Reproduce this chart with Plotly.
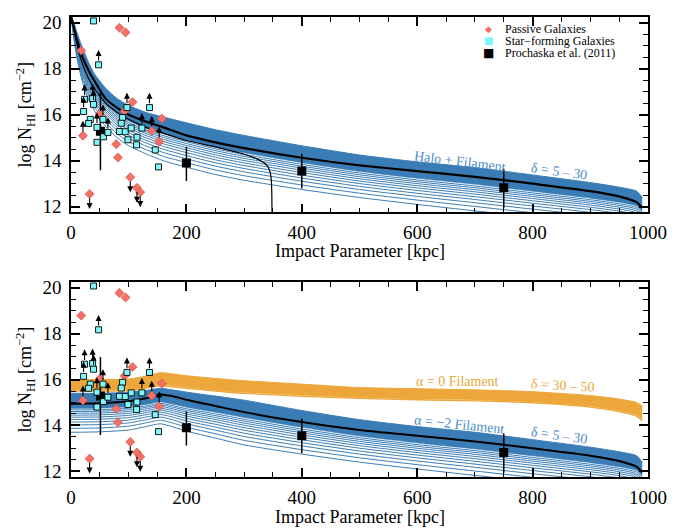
import numpy as np
import plotly.graph_objects as go
from plotly.subplots import make_subplots

# ---- galaxy measurements (impact parameter kpc, log N_HI) ----
passive_b = [84, 94.5, 17.8, 106.7, 157.5, 20.7, 49.6, 92.9, 140, 152.9, 78.4, 81.3, 102.7, 114.3, 120, 32.2]
passive_n = [19.78, 19.58, 18.79, 16.55, 15.83, 15.09, 16.02, 16.16, 15.30, 14.83, 14.72, 14.14, 13.28, 12.82, 12.63, 12.55]
passive_lim = ['', '', '', '', '', 'low', '', '', 'low', 'low', '', '', 'up', 'up', 'up', 'up']

sf_b = [39.1, 47.8, 23.5, 37.4, 39.1, 21.8, 33.4, 30.5, 45, 55.4, 45, 56.4, 64,
        89.4, 97, 87.1, 84.1, 94, 104.4, 98.7, 114.3, 113.6, 122.9, 136, 146, 151.7]
sf_n = [20.08, 18.17, 16.67, 16.7, 16.45, 16.14, 15.8, 15.62, 15.45, 15.8, 14.8, 15.04, 15.23,
        15.88, 16.31, 15.63, 15.27, 15.26, 15.42, 14.91, 15.02, 14.69, 15.42, 16.31, 14.47, 13.73]
sf_lim = ['', 'low', 'low', 'low', 'low', 'low', '', '', 'low', 'low', '', '', 'low',
          '', 'low', '', '', '', '', '', '', '', 'low', 'low', '', '']

# Prochaska et al. (2011)
pro_b = [51, 200, 400, 750]
pro_n = [15.28, 13.90, 13.55, 12.82]
pro_hi = [16.98, 14.61, 14.30, 13.65]
pro_lo = [13.58, 13.12, 12.79, 11.93]

# ---- top panel models: halo + filament ----
top_b = [0, 5, 10, 20, 30, 40, 60, 80, 100, 130, 160, 200, 250, 300, 400, 500, 600, 700, 800, 900, 950, 980, 990]
hf_hi = [20.3, 20.0, 19.6, 18.9, 18.3, 17.8, 17.15, 16.7, 16.4, 16.1, 15.9, 15.65, 15.35, 15.1,
         14.65, 14.25, 13.95, 13.7, 13.38, 13.05, 12.85, 12.68, 12.4]
hf_lo = [20.3, 19.3, 18.5, 17.4, 16.7, 16.2, 15.5, 15.0, 14.65, 14.3, 14.0, 13.72, 13.4, 13.15,
         12.75, 12.4, 12.1, 11.82, 11.55, 11.3, 11.15, 11.0, 10.8]
hf_mid = [20.3, 19.8, 19.3, 18.5, 17.95, 17.5, 16.7, 16.3, 16.0, 15.7, 15.45, 15.1, 14.8, 14.55,
          14.13, 13.8, 13.55, 13.3, 13.0, 12.68, 12.45, 12.2, 11.95]
halo_b = [0, 5, 10, 20, 30, 40, 60, 80, 100, 130, 160, 200, 250, 300, 322, 335, 341, 345, 347, 348, 348.5]
halo_n = [20.3, 19.7, 19.1, 18.2, 17.6, 17.15, 16.5, 16.1, 15.8, 15.45, 15.2, 14.88, 14.6, 14.28,
          14.08, 13.9, 13.75, 13.5, 13.2, 12.6, 11.5]

# ---- bottom panel models: filaments ----
bot_b = [0, 50, 100, 130, 155, 175, 200, 250, 300, 400, 500, 600, 700, 800, 900, 950, 980, 990]
a0_hi = [16.0, 16.0, 16.02, 16.15, 16.3, 16.25, 16.17, 16.05, 15.95, 15.8, 15.65, 15.6, 15.55, 15.47, 15.3, 15.15, 15.0, 14.85]
a0_lo = [15.5, 15.5, 15.52, 15.62, 15.72, 15.68, 15.62, 15.5, 15.4, 15.27, 15.18, 15.12, 15.07, 14.98, 14.8, 14.6, 14.4, 14.2]
am2_hi = [15.4, 15.4, 15.45, 15.52, 15.62, 15.55, 15.45, 15.28, 15.1, 14.65, 14.25, 13.95, 13.7, 13.38, 13.05, 12.85, 12.68, 12.4]
am2_lo = [13.7, 13.72, 13.8, 13.95, 14.07, 13.95, 13.75, 13.45, 13.15, 12.75, 12.4, 12.1, 11.82, 11.55, 11.3, 11.15, 11.0, 10.8]
am2_mid = [14.95, 14.97, 15.05, 15.18, 15.35, 15.28, 15.12, 14.85, 14.58, 14.15, 13.8, 13.55, 13.3, 13.0, 12.68, 12.45, 12.2, 11.95]

deltas_blue = list(range(5, 31))
deltas_orange = list(range(30, 51))

BLUE = 'rgb(58,125,182)'
BLUE_TXT = 'rgb(78,140,198)'
ORANGE = 'rgb(236,166,58)'
SERIF = 'Liberation Serif'


def fan(lo, hi, deltas):
    # one curve per delta, spaced in log(delta) between the two edge curves
    lo = np.array(lo)
    hi = np.array(hi)
    ld = np.log10(deltas)
    w = (ld - ld[0]) / (ld[-1] - ld[0])
    return [lo + wi * (hi - lo) for wi in w]


fig = make_subplots(rows=2, cols=1)
SPL = dict(shape='spline', smoothing=0.6)


def add_fan(row, b, lo, hi, deltas, color, width, solid_from):
    curves = fan(lo, hi, deltas)
    # dense upper part of the family reads as a solid band
    k = deltas.index(solid_from)
    fig.add_trace(go.Scatter(x=b, y=curves[k], mode='lines', showlegend=False, hoverinfo='skip',
                             line=dict(color=color, width=0.5, **SPL)), row=row, col=1)
    fig.add_trace(go.Scatter(x=b, y=curves[-1], mode='lines', showlegend=False, hoverinfo='skip',
                             fill='tonexty', fillcolor=color,
                             line=dict(color=color, width=1.0, **SPL)), row=row, col=1)
    for curve in curves[:k]:
        fig.add_trace(go.Scatter(x=b, y=curve, mode='lines', showlegend=False, hoverinfo='skip',
                                 line=dict(color=color, width=width, **SPL)),
                      row=row, col=1)


def add_points(row):
    fig.add_trace(go.Scatter(x=pro_b, y=pro_n, mode='markers', showlegend=False,
                             marker=dict(symbol='square', size=9, color='black'),
                             error_y=dict(type='data', symmetric=False,
                                          array=[h - n for h, n in zip(pro_hi, pro_n)],
                                          arrayminus=[n - l for n, l in zip(pro_n, pro_lo)],
                                          color='black', thickness=1.5, width=0)),
                  row=row, col=1)
    fig.add_trace(go.Scatter(x=passive_b, y=passive_n, mode='markers', showlegend=False,
                             marker=dict(symbol='diamond', size=7, color='rgb(244,112,102)',
                                         line=dict(color='rgb(205,70,60)', width=0.6))),
                  row=row, col=1)
    fig.add_trace(go.Scatter(x=sf_b, y=sf_n, mode='markers', showlegend=False,
                             marker=dict(symbol='square', size=6, color='rgb(125,248,250)',
                                         line=dict(color='black', width=0.9))),
                  row=row, col=1)
    xr = 'x' if row == 1 else 'x2'
    yr = 'y' if row == 1 else 'y2'
    for b, n, lim in list(zip(passive_b, passive_n, passive_lim)) + list(zip(sf_b, sf_n, sf_lim)):
        if lim == 'low':
            tail, tip = n + 0.12, n + 0.65
        elif lim == 'up':
            tail, tip = n - 0.12, n - 0.65
        else:
            continue
        fig.add_annotation(x=b, y=tip, ax=b, ay=tail, xref=xr, yref=yr, axref=xr, ayref=yr,
                           text='', showarrow=True, arrowhead=2, arrowsize=1.1,
                           arrowwidth=1.1, arrowcolor='black')


# top panel
add_fan(1, top_b, hf_lo, hf_hi, deltas_blue, BLUE, 1.0, 15)
fig.add_trace(go.Scatter(x=halo_b, y=halo_n, mode='lines', showlegend=False,
                         line=dict(color='black', width=1.2, shape='spline', smoothing=0.4)), row=1, col=1)
fig.add_trace(go.Scatter(x=top_b, y=hf_mid, mode='lines', showlegend=False,
                         line=dict(color='black', width=2.2, **SPL)), row=1, col=1)
add_points(1)

# bottom panel
add_fan(2, bot_b, a0_lo, a0_hi, deltas_orange, ORANGE, 1.3, 31)
add_fan(2, bot_b, am2_lo, am2_hi, deltas_blue, BLUE, 1.0, 15)
fig.add_trace(go.Scatter(x=bot_b, y=am2_mid, mode='lines', showlegend=False,
                         line=dict(color='black', width=2.0, **SPL)), row=2, col=1)
add_points(2)

# model labels
labels = [
    ('x', 'y', 675, 13.98, 'Halo + Filament', BLUE_TXT, 7),
    ('x', 'y', 847, 13.55, 'δ = 5 – 30', BLUE_TXT, 8),
    ('x2', 'y2', 669, 15.91, 'α = 0 Filament', ORANGE, 0),
    ('x2', 'y2', 852, 15.75, 'δ = 30 – 50', ORANGE, 3),
    ('x2', 'y2', 674, 14.02, 'α = −2 Filament', BLUE_TXT, 6),
    ('x2', 'y2', 847, 13.57, 'δ = 5 – 30', BLUE_TXT, 8),
]
for xr, yr, x, y, txt, col, ang in labels:
    fig.add_annotation(x=x, y=y, xref=xr, yref=yr, text=txt, showarrow=False, textangle=ang,
                       font=dict(family=SERIF, size=14, color=col))

# legend (top panel, upper right)
legend_rows = [
    ('◆', 'rgb(244,112,102)', 9, 'Passive Galaxies', 0.975),
    ('■', 'rgb(125,248,250)', 10, 'Star−forming Galaxies', 0.948),
    ('■', 'black', 12, 'Prochaska et al. (2011)', 0.921),
]
for sym, col, sz, txt, yp in legend_rows:
    fig.add_annotation(x=0.7233, y=yp, xref='paper', yref='paper', text=sym, showarrow=False,
                       xanchor='center', yanchor='middle', font=dict(family='DejaVu Sans', size=sz, color=col))
    fig.add_annotation(x=0.7504, y=yp, xref='paper', yref='paper', text=txt, showarrow=False,
                       xanchor='left', yanchor='middle', borderpad=0,
                       font=dict(family=SERIF, size=12, color='black'))

# x-axis titles placed under each panel
for xr, yr, yd in [('x domain', 'y domain', -0.195), ('x2 domain', 'y2 domain', -0.205)]:
    fig.add_annotation(x=0.5, y=yd, xref=xr, yref=yr, text='Impact Parameter [kpc]', showarrow=False,
                       xanchor='center', yanchor='middle', borderpad=0,
                       font=dict(family=SERIF, size=18, color='black'))

axis_common = dict(showline=True, linecolor='black', linewidth=1.5, mirror='ticks', ticks='inside',
                   tickwidth=1.5, ticklen=9, tickcolor='black', showgrid=False, zeroline=False,
                   tickfont=dict(family=SERIF, size=19, color='black'))
xa = dict(axis_common, range=[0, 1000], tick0=0, dtick=200, ticklabelstandoff=2,
          minor=dict(ticks='inside', dtick=50, ticklen=5, tickwidth=1.2, tickcolor='black', showgrid=False))
ya = dict(axis_common, range=[11.75, 20.25], tick0=12, dtick=2, ticklabelstandoff=4,
          minor=dict(ticks='inside', dtick=0.5, ticklen=5, tickwidth=1.2, tickcolor='black', showgrid=False),
          title=dict(text='log N<sub>HI</sub> [cm<sup>−2</sup>]', standoff=6,
                     font=dict(family=SERIF, size=18, color='black')))

# page body has an 8px margin, so the figure is drawn 8px in from the window corner
fig.update_layout(
    width=677, height=521,
    margin=dict(l=63, r=37, t=4, b=52),
    paper_bgcolor='white', plot_bgcolor='white',
    xaxis=dict(xa, domain=[0, 1], anchor='y'),
    yaxis=dict(ya, domain=[0.5751, 1], anchor='x'),
    xaxis2=dict(xa, domain=[0, 1], anchor='y2'),
    yaxis2=dict(ya, domain=[0, 0.4237], anchor='x2'),
    showlegend=False,
)

fig.write_html("out.html")
